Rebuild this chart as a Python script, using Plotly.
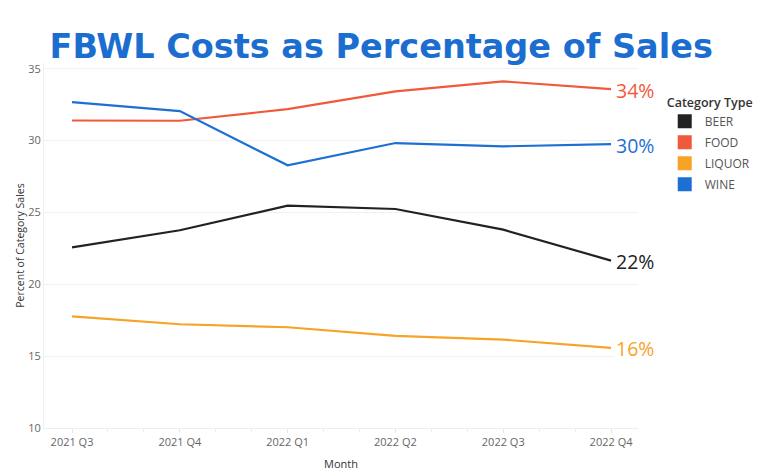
import plotly.graph_objects as go

quarters = ["2021 Q3", "2021 Q4", "2022 Q1", "2022 Q2", "2022 Q3", "2022 Q4"]
beer = [22.57, 23.76, 25.47, 25.24, 23.80, 21.65]
food = [31.40, 31.38, 32.19, 33.42, 34.12, 33.58]
liquor = [17.77, 17.22, 17.01, 16.41, 16.15, 15.57]
wine = [32.68, 32.05, 28.28, 29.83, 29.60, 29.76]

series_names = ["BEER", "FOOD", "LIQUOR", "WINE"]
series_values = [beer, food, liquor, wine]
colors = ["#222222", "#f0593a", "#f7a327", "#1e6fd4"]
end_labels = ["22%", "34%", "16%", "30%"]

xi = list(range(len(quarters)))

fig = go.Figure()
for name, vals, col in zip(series_names, series_values, colors):
    fig.add_trace(go.Scatter(x=xi, y=vals, mode="lines", name=name,
                             line=dict(color=col, width=2.2),
                             showlegend=False, hoverinfo="skip"))
for name, col in zip(series_names, colors):
    fig.add_trace(go.Scatter(x=[None], y=[None], mode="markers", name=name,
                             legendgroup=name,
                             marker=dict(symbol="square", size=14, color=col,
                                         line=dict(width=0))))

for vals, col, lab in zip(series_values, colors, end_labels):
    fig.add_annotation(x=xi[-1], y=vals[-1], xref="x", yref="y", text=lab,
                       showarrow=False, xanchor="left", yanchor="middle",
                       xshift=3, yshift=-1,
                       font=dict(family="Open Sans", size=19.5, color=col),
                       bgcolor="white")

fig.update_layout(
    width=768, height=476,
    paper_bgcolor="white", plot_bgcolor="white",
    margin=dict(l=36, r=138, t=55, b=56, autoexpand=False),
    title=dict(text="FBWL Costs as Percentage of Sales",
               x=0.486, xanchor="center", y=0.92, yanchor="middle",
               font=dict(family="DejaVu Sans", size=33.5, color="#1b6ecf", weight=900)),
    font=dict(family="Open Sans", color="#666666", size=11),
    legend=dict(title=dict(text="Category Type", side="top",
                           font=dict(family="Open Sans", size=12.5, color="#333333", weight=600)),
                x=1.045, xanchor="left", y=0.925, yanchor="top",
                font=dict(family="Open Sans", size=12, color="#555555"),
                itemwidth=30, tracegroupgap=2, bgcolor="rgba(0,0,0,0)"),
    xaxis=dict(range=[-0.26, 5.25], tickvals=xi, ticktext=quarters,
               automargin=False,
               showgrid=False, zeroline=False,
               showline=True, linecolor="#eeeeee", linewidth=1,
               ticks="outside", ticklen=4, tickcolor="#e6e6e6",
               minor=dict(dtick=1/3, ticks="outside", ticklen=3, tickcolor="#eeeeee", showgrid=False),
               tickfont=dict(size=11, color="#666666"),
               title=dict(text="Month", font=dict(size=11, color="#333333"), standoff=12)),
    yaxis=dict(range=[10, 35.4], tickvals=[10, 15, 20, 25, 30, 35],
               automargin=False,
               showgrid=True, gridcolor="#f1f1f1", gridwidth=1, zeroline=False,
               showline=True, linecolor="#eeeeee", linewidth=1,
               ticks="", tickfont=dict(size=11, color="#666666"),
               title=dict(text="Percent of Category Sales", font=dict(size=10.5, color="#333333"), standoff=1)),
)

fig.write_html("out.html")
